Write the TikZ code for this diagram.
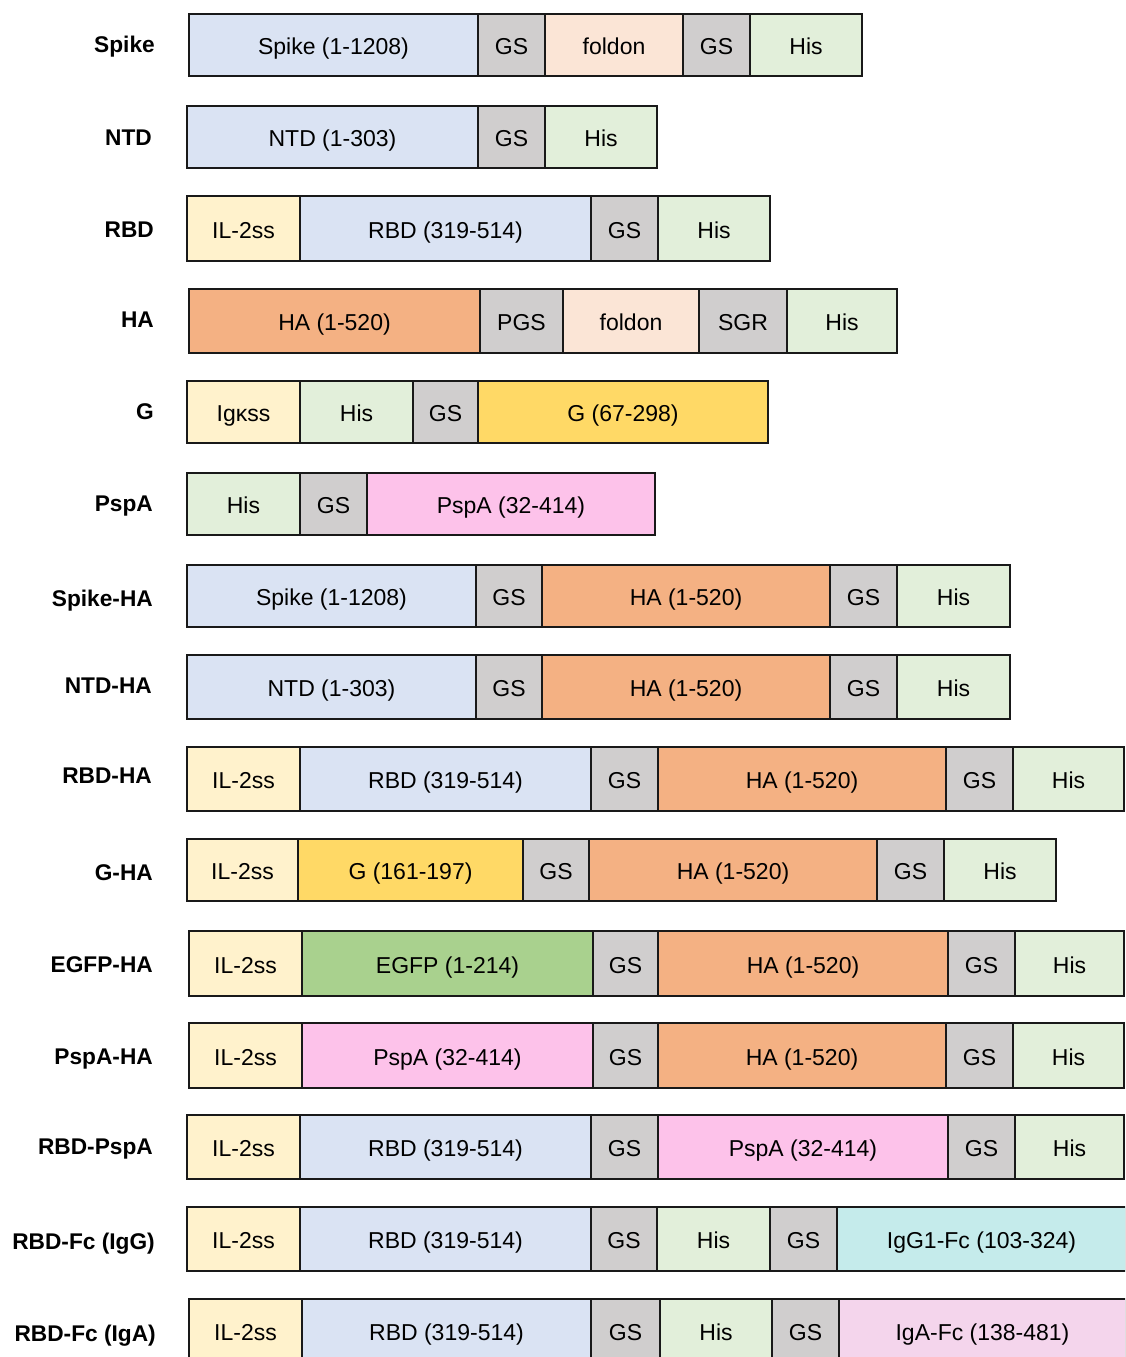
\documentclass[tikz,border=0pt]{standalone}
\usepackage{fontspec}
\setmainfont{Liberation Sans}
\definecolor{blu}{HTML}{DAE3F3}
\definecolor{gsc}{HTML}{D0CECE}
\definecolor{fold}{HTML}{FBE5D6}
\definecolor{his}{HTML}{E2EFDA}
\definecolor{il}{HTML}{FFF2CC}
\definecolor{hac}{HTML}{F4B183}
\definecolor{gy}{HTML}{FFD966}
\definecolor{psp}{HTML}{FDC2EA}
\definecolor{egfp}{HTML}{A9D18E}
\definecolor{igg}{HTML}{C5EBEB}
\definecolor{iga}{HTML}{F4D5EC}
\tikzset{
  seg/.style={draw=black!90,line width=2.2pt,rectangle,inner sep=0pt,
    text height=19pt,text depth=0pt,font=\fontsize{23}{27}\selectfont},
  rowlabel/.style={anchor=east,inner sep=0pt,text height=16.5pt,text depth=0pt,
    font=\fontsize{22.7}{27}\selectfont\bfseries}
}
\newcommand\seg[7]{\node[seg,fill=#6,minimum width={(#3-#2)*1pt},minimum height={(#5-#4)*1pt}] (#1) at ({(#2+#3)/2},{(#4+#5)/2}) {#7};}
\begin{document}
\begin{tikzpicture}[x=1pt,y=-1pt]
\useasboundingbox (0,0) rectangle (1125,1357);
\fill[white] (0,0) rectangle (1125,1357);
\begin{scope}
\clip (0,0) rectangle (1125,1357);
% labels
\node[rowlabel] (l1) at (155,44) {Spike};
\node[rowlabel] (l2) at (152,137) {NTD};
\node[rowlabel] (l3) at (154,229) {RBD};
\node[rowlabel] (l4) at (154,319) {HA};
\node[rowlabel] (l5) at (154,411) {G};
\node[rowlabel] (l6) at (153,503) {PspA};
\node[rowlabel] (l7) at (153,598) {Spike-HA};
\node[rowlabel] (l8) at (152,685) {NTD-HA};
\node[rowlabel] (l9) at (152,775) {RBD-HA};
\node[rowlabel] (l10) at (153,872) {G-HA};
\node[rowlabel] (l11) at (153,964) {EGFP-HA};
\node[rowlabel] (l12) at (153,1056) {PspA-HA};
\node[rowlabel] (l13) at (153,1146) {RBD-PspA};
\node[rowlabel] (l14) at (155,1241) {RBD-Fc (IgG)};
\node[rowlabel] (l15) at (156,1333) {RBD-Fc (IgA)};
% row 1
\seg{a1}{189}{478}{14}{76}{blu}{Spike (1-1208)}
\seg{a2}{478}{545}{14}{76}{gsc}{GS}
\seg{a3}{545}{683}{14}{76}{fold}{foldon}
\seg{a4}{683}{750}{14}{76}{gsc}{GS}
\seg{a5}{750}{862}{14}{76}{his}{His}
% row 2
\seg{b1}{187}{478}{106}{168}{blu}{NTD (1-303)}
\seg{b2}{478}{545}{106}{168}{gsc}{GS}
\seg{b3}{545}{657}{106}{168}{his}{His}
% row 3
\seg{c1}{187}{300}{196}{261}{il}{IL-2ss}
\seg{c2}{300}{591}{196}{261}{blu}{RBD (319-514)}
\seg{c3}{591}{658}{196}{261}{gsc}{GS}
\seg{c4}{658}{770}{196}{261}{his}{His}
% row 4
\seg{d1}{189}{480}{289}{353}{hac}{HA (1-520)}
\seg{d2}{480}{563}{289}{353}{gsc}{PGS}
\seg{d3}{563}{699}{289}{353}{fold}{foldon}
\seg{d4}{699}{787}{289}{353}{gsc}{SGR}
\seg{d5}{787}{897}{289}{353}{his}{His}
% row 5
\seg{e1}{187}{300}{381}{443}{il}{Igκss}
\seg{e2}{300}{413}{381}{443}{his}{His}
\seg{e3}{413}{478}{381}{443}{gsc}{GS}
\seg{e4}{478}{768}{381}{443}{gy}{G (67-298)}
% row 6
\seg{f1}{187}{300}{473}{535}{his}{His}
\seg{f2}{300}{367}{473}{535}{gsc}{GS}
\seg{f3}{367}{655}{473}{535}{psp}{PspA (32-414)}
% row 7
\seg{g1}{187}{476}{565}{627}{blu}{Spike (1-1208)}
\seg{g2}{476}{542}{565}{627}{gsc}{GS}
\seg{g3}{542}{830}{565}{627}{hac}{HA (1-520)}
\seg{g4}{830}{897}{565}{627}{gsc}{GS}
\seg{g5}{897}{1010}{565}{627}{his}{His}
% row 8
\seg{h1}{187}{476}{655}{719}{blu}{NTD (1-303)}
\seg{h2}{476}{542}{655}{719}{gsc}{GS}
\seg{h3}{542}{830}{655}{719}{hac}{HA (1-520)}
\seg{h4}{830}{897}{655}{719}{gsc}{GS}
\seg{h5}{897}{1010}{655}{719}{his}{His}
% row 9
\seg{i1}{187}{300}{747}{811}{il}{IL-2ss}
\seg{i2}{300}{591}{747}{811}{blu}{RBD (319-514)}
\seg{i3}{591}{658}{747}{811}{gsc}{GS}
\seg{i4}{658}{946}{747}{811}{hac}{HA (1-520)}
\seg{i5}{946}{1013}{747}{811}{gsc}{GS}
\seg{i6}{1013}{1124}{747}{811}{his}{His}
% row 10
\seg{j1}{187}{298}{839}{901}{il}{IL-2ss}
\seg{j2}{298}{523}{839}{901}{gy}{G (161-197)}
\seg{j3}{523}{589}{839}{901}{gsc}{GS}
\seg{j4}{589}{877}{839}{901}{hac}{HA (1-520)}
\seg{j5}{877}{944}{839}{901}{gsc}{GS}
\seg{j6}{944}{1056}{839}{901}{his}{His}
% row 11
\seg{k1}{189}{302}{931}{996}{il}{IL-2ss}
\seg{k2}{302}{593}{931}{996}{egfp}{EGFP (1-214)}
\seg{k3}{593}{658}{931}{996}{gsc}{GS}
\seg{k4}{658}{948}{931}{996}{hac}{HA (1-520)}
\seg{k5}{948}{1015}{931}{996}{gsc}{GS}
\seg{k6}{1015}{1124}{931}{996}{his}{His}
% row 12
\seg{m1}{189}{302}{1023}{1088}{il}{IL-2ss}
\seg{m2}{302}{593}{1023}{1088}{psp}{PspA (32-414)}
\seg{m3}{593}{658}{1023}{1088}{gsc}{GS}
\seg{m4}{658}{946}{1023}{1088}{hac}{HA (1-520)}
\seg{m5}{946}{1013}{1023}{1088}{gsc}{GS}
\seg{m6}{1013}{1124}{1023}{1088}{his}{His}
% row 13
\seg{n1}{187}{300}{1115}{1179}{il}{IL-2ss}
\seg{n2}{300}{591}{1115}{1179}{blu}{RBD (319-514)}
\seg{n3}{591}{658}{1115}{1179}{gsc}{GS}
\seg{n4}{658}{948}{1115}{1179}{psp}{PspA (32-414)}
\seg{n5}{948}{1015}{1115}{1179}{gsc}{GS}
\seg{n6}{1015}{1124}{1115}{1179}{his}{His}
% row 14
\seg{o1}{187}{300}{1207}{1271}{il}{IL-2ss}
\seg{o2}{300}{591}{1207}{1271}{blu}{RBD (319-514)}
\seg{o3}{591}{657}{1207}{1271}{gsc}{GS}
\seg{o4}{657}{770}{1207}{1271}{his}{His}
\seg{o5}{770}{837}{1207}{1271}{gsc}{GS}
\seg{o6}{837}{1126}{1207}{1271}{igg}{IgG1-Fc (103-324)}
% row 15
\seg{p1}{189}{302}{1299}{1363}{il}{IL-2ss}
\seg{p2}{302}{591}{1299}{1363}{blu}{RBD (319-514)}
\seg{p3}{591}{660}{1299}{1363}{gsc}{GS}
\seg{p4}{660}{772}{1299}{1363}{his}{His}
\seg{p5}{772}{839}{1299}{1363}{gsc}{GS}
\seg{p6}{839}{1126}{1299}{1363}{iga}{IgA-Fc (138-481)}
\end{scope}
\end{tikzpicture}
\end{document}
